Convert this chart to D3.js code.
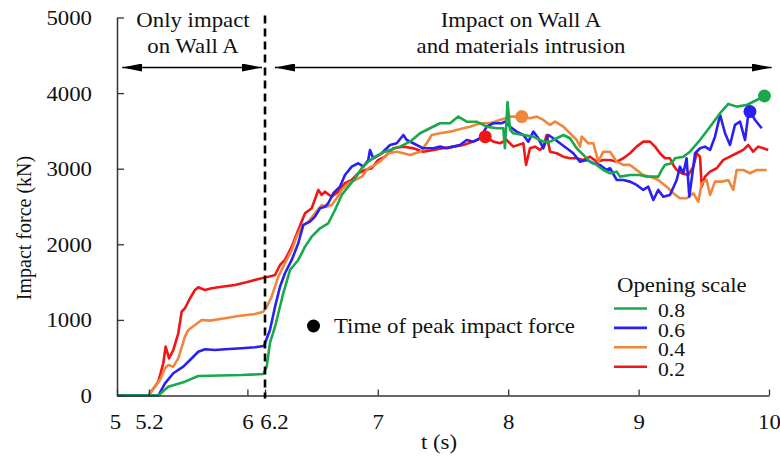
<!DOCTYPE html>
<html><head><meta charset="utf-8">
<script src="https://cdn.jsdelivr.net/npm/d3@7"></script>
<style>body{margin:0;background:#fff}svg{display:block}</style>
</head><body><svg id="c" width="780" height="459"></svg>
<script>
// ---- data ----
const seriesNames = ["0.8", "0.6", "0.4", "0.2"];
const seriesColors = ["#19a84b", "#2b20f2", "#ee873c", "#f01616"];
const xTicks = [5, 5.245, 6, 6.135, 7, 8, 9, 10];
const xTickLabels = ["5", "5.2", "6", "6.2", "7", "8", "9", "10"];
const yTicks = [0, 1000, 2000, 3000, 4000, 5000];
const phaseBoundary = 6.135;

const s08 = [[5,0],[5.238,0],[5.317,0],[5.393,116],[5.521,183],[5.623,258],[5.956,271],[6.122,284],[6.148,381],[6.173,695],[6.212,910],[6.275,1352],[6.327,1660],[6.39,1793],[6.442,1969],[6.493,2101],[6.557,2212],[6.62,2278],[6.672,2454],[6.723,2653],[6.774,2762],[6.825,2874],[6.877,3006],[6.927,3093],[6.979,3159],[7.055,3225],[7.17,3292],[7.247,3358],[7.324,3469],[7.4,3535],[7.477,3601],[7.554,3601],[7.617,3689],[7.682,3622],[7.758,3622],[7.835,3556],[7.912,3535],[7.962,3535],[7.975,3270],[7.995,3883],[8.014,3513],[8.039,3469],[8.116,3446],[8.193,3424],[8.269,3358],[8.321,3358],[8.372,3403],[8.423,3446],[8.474,3403],[8.525,3270],[8.576,3182],[8.627,3093],[8.679,3050],[8.729,2983],[8.781,2940],[8.832,2961],[8.857,2895],[8.934,2917],[9.011,2917],[9.062,2895],[9.087,2895],[9.151,2895],[9.177,2983],[9.202,3050],[9.254,3072],[9.279,3138],[9.343,3159],[9.394,3225],[9.471,3380],[9.548,3556],[9.625,3734],[9.688,3857],[9.752,3821],[9.829,3843],[9.906,3909],[9.969,3962]];
const s06 = [[5,0],[5.238,0],[5.317,0],[5.368,161],[5.432,294],[5.508,381],[5.56,470],[5.623,579],[5.675,611],[5.752,602],[5.828,611],[5.956,624],[6.058,638],[6.127,655],[6.173,867],[6.212,1175],[6.25,1439],[6.288,1617],[6.34,1793],[6.39,2014],[6.429,2256],[6.48,2299],[6.518,2366],[6.557,2477],[6.595,2498],[6.62,2543],[6.659,2675],[6.71,2762],[6.748,2917],[6.8,3027],[6.85,3072],[6.889,3027],[6.927,3116],[6.94,3248],[6.965,3138],[7.03,3204],[7.094,3314],[7.145,3337],[7.196,3446],[7.222,3380],[7.272,3337],[7.349,3270],[7.426,3270],[7.477,3292],[7.528,3270],[7.579,3292],[7.63,3314],[7.682,3380],[7.732,3358],[7.784,3403],[7.835,3556],[7.886,3601],[7.95,3601],[7.975,3622],[8.014,3556],[8.065,3490],[8.116,3446],[8.154,3358],[8.193,3490],[8.231,3403],[8.269,3270],[8.308,3446],[8.346,3403],[8.397,3337],[8.449,3270],[8.499,3204],[8.55,3093],[8.602,3116],[8.653,3072],[8.704,3050],[8.755,2983],[8.781,3006],[8.832,2851],[8.883,2851],[8.934,2829],[8.985,2785],[9.036,2719],[9.074,2762],[9.113,2586],[9.151,2719],[9.189,2630],[9.24,2653],[9.292,2851],[9.317,3027],[9.343,2940],[9.368,3138],[9.389,2630],[9.433,3204],[9.471,3270],[9.509,3292],[9.548,3248],[9.586,3424],[9.625,3711],[9.663,3469],[9.701,3314],[9.739,3579],[9.778,3622],[9.816,3380],[9.841,3711],[9.854,3755],[9.893,3645],[9.944,3535]];
const s04 = [[5,0],[5.24,0],[5.291,116],[5.33,205],[5.368,360],[5.393,404],[5.432,381],[5.47,492],[5.521,778],[5.547,867],[5.598,933],[5.65,999],[5.713,990],[5.828,1021],[5.93,1052],[6.058,1078],[6.122,1109],[6.148,1171],[6.186,1307],[6.237,1572],[6.288,1749],[6.34,1925],[6.378,2101],[6.416,2233],[6.467,2299],[6.518,2410],[6.57,2520],[6.608,2498],[6.646,2520],[6.685,2609],[6.723,2719],[6.774,2807],[6.825,2851],[6.877,2895],[6.927,3006],[6.979,3050],[7.03,3116],[7.081,3204],[7.145,3225],[7.196,3204],[7.247,3182],[7.324,3225],[7.375,3337],[7.413,3446],[7.477,3469],[7.554,3490],[7.605,3513],[7.656,3535],[7.707,3556],[7.784,3601],[7.86,3601],[7.937,3645],[8.014,3689],[8.104,3689],[8.167,3667],[8.219,3689],[8.269,3645],[8.321,3579],[8.359,3622],[8.423,3556],[8.474,3469],[8.525,3380],[8.551,3292],[8.564,3424],[8.614,3337],[8.653,3337],[8.691,3093],[8.729,3225],[8.781,3225],[8.832,3093],[8.883,3050],[8.934,3050],[8.985,2983],[9.036,2917],[9.087,2895],[9.151,2851],[9.215,2762],[9.266,2675],[9.317,2609],[9.368,2609],[9.42,2675],[9.458,2564],[9.484,2807],[9.522,2851],[9.548,2653],[9.586,2829],[9.637,2829],[9.688,2851],[9.726,2719],[9.752,2983],[9.803,2983],[9.854,2940],[9.906,2983],[9.982,2983]];
const s02 = [[5,0],[5.24,0],[5.317,183],[5.355,426],[5.373,646],[5.399,492],[5.432,602],[5.47,823],[5.496,1109],[5.521,1154],[5.56,1286],[5.598,1396],[5.623,1431],[5.675,1396],[5.726,1418],[5.803,1439],[5.905,1462],[6.007,1506],[6.11,1551],[6.186,1581],[6.212,1594],[6.25,1726],[6.288,1793],[6.34,1969],[6.39,2190],[6.442,2410],[6.493,2477],[6.544,2719],[6.57,2653],[6.595,2696],[6.646,2630],[6.697,2696],[6.748,2807],[6.8,2851],[6.85,2940],[6.902,2983],[6.953,3006],[7.004,3116],[7.055,3159],[7.119,3270],[7.196,3292],[7.272,3270],[7.349,3225],[7.426,3248],[7.502,3270],[7.579,3292],[7.656,3314],[7.732,3358],[7.824,3424],[7.886,3358],[7.937,3337],[7.988,3380],[8.039,3292],[8.116,3337],[8.137,3050],[8.167,3270],[8.206,3292],[8.244,3248],[8.269,3292],[8.295,3446],[8.321,3225],[8.372,3204],[8.423,3159],[8.474,3138],[8.525,3138],[8.576,3116],[8.627,3159],[8.679,3093],[8.729,3116],[8.781,3116],[8.832,3093],[8.883,3138],[8.934,3204],[8.985,3292],[9.036,3358],[9.087,3358],[9.126,3292],[9.164,3204],[9.202,3138],[9.24,3138],[9.266,3050],[9.292,2983],[9.33,2940],[9.381,2917],[9.42,3027],[9.446,3204],[9.471,3159],[9.484,2762],[9.509,2895],[9.548,2961],[9.599,3006],[9.65,3116],[9.701,3159],[9.752,3204],[9.803,3248],[9.841,3314],[9.879,3225],[9.917,3292],[9.956,3270],[9.994,3248]];
const seriesData = [s08, s06, s04, s02];
const peaks = [[9.965, 3962], [9.854, 3755], [8.104, 3689], [7.824, 3424]];

// ---- drawing ----
const FONT = "'Liberation Serif', 'Times New Roman', Tinos, 'DejaVu Serif', serif";
const STRETCH = 1.14; // reference text is horizontally stretched
const svg = d3.select("#c").style("font-family", FONT);
const x = d3.scaleLinear().domain([5, 10]).range([117, 769]);
const y = d3.scaleLinear().domain([0, 5000]).range([395.5, 17.5]);
const axisColor = "#333";
const fs = 20;
function txt(sel) { return sel.style("font-family", FONT).attr("fill", "#111"); }

// lines (draw red first, green last)
const line = d3.line().x(d => x(d[0])).y(d => y(d[1]));
[3, 2, 1, 0].forEach(i => {
  svg.append("path").datum(seriesData[i]).attr("d", line)
    .attr("fill", "none").attr("stroke", seriesColors[i])
    .attr("stroke-width", 2.6).attr("stroke-linejoin", "round");
});
[3, 2, 1, 0].forEach(i => {
  svg.append("circle").attr("cx", x(peaks[i][0])).attr("cy", y(peaks[i][1]))
    .attr("r", 6.5).attr("fill", seriesColors[i]);
});

// axes
const xAxis = d3.axisBottom(x).tickValues(xTicks)
  .tickFormat((d, i) => xTickLabels[i]).tickSizeInner(-6).tickSizeOuter(0).tickPadding(14);
const gx = svg.append("g").attr("transform", `translate(0,${y(0)})`).call(xAxis).attr("font-family", null);
gx.select(".domain").attr("stroke", axisColor).attr("stroke-width", 1.5);
gx.selectAll(".tick line").attr("stroke", axisColor).attr("stroke-width", 1.3);
txt(gx.selectAll(".tick text")).attr("font-size", fs).attr("dy", null).attr("y", 34).classed("hs", true)
  .attr("x", (d, i) => xTickLabels[i] === "6.2" ? 9 : (xTickLabels[i] === "5" ? -2 : 0));

const yAxis = d3.axisLeft(y).tickValues(yTicks).tickFormat(d3.format("d"))
  .tickSizeInner(-7).tickSizeOuter(0).tickPadding(25);
const gy = svg.append("g").attr("transform", `translate(${x(5)},0)`).call(yAxis).attr("font-family", null);
gy.select(".domain").attr("stroke", axisColor).attr("stroke-width", 1.5);
gy.selectAll(".tick line").attr("stroke", axisColor).attr("stroke-width", 1.3);
txt(gy.selectAll(".tick text")).attr("font-size", fs).attr("dy", null).attr("y", 7).classed("hs", true);

// axis titles
txt(svg.append("text")).attr("x", 439).attr("y", 449).attr("text-anchor", "middle")
  .attr("font-size", fs).classed("hs", true).text("t (s)");
txt(svg.append("text")).attr("transform", `translate(31,${228}) rotate(-90)`).attr("text-anchor", "middle")
  .attr("font-size", fs).text("Impact force (kN)");

// phase boundary dashed line
svg.append("line").attr("x1", x(phaseBoundary)).attr("x2", x(phaseBoundary))
  .attr("y1", y(5000) - 2).attr("y2", y(0) + 3)
  .attr("stroke", "#000").attr("stroke-width", 2.6).attr("stroke-dasharray", "8,5");

// arrows
const defs = svg.append("defs");
defs.append("marker").attr("id", "ah").attr("viewBox", "0 0 20 8").attr("refX", 20).attr("refY", 4)
  .attr("markerWidth", 20).attr("markerHeight", 8).attr("markerUnits", "userSpaceOnUse").attr("orient", "auto-start-reverse")
  .append("path").attr("d", "M0,0 L20,4 L0,8 Z").attr("fill", "#000");
const arrowY = 67.5;
function arrow(x1, x2) {
  svg.append("line").attr("x1", x1).attr("x2", x2).attr("y1", arrowY).attr("y2", arrowY)
    .attr("stroke", "#000").attr("stroke-width", 1.3)
    .attr("marker-start", "url(#ah)").attr("marker-end", "url(#ah)");
}
arrow(x(5.04), x(phaseBoundary) - 3);
arrow(x(phaseBoundary) + 10, x(10.02));

function label2(cx, l1, l2) {
  txt(svg.append("text")).attr("x", cx).attr("y", 27).attr("text-anchor", "middle").attr("font-size", fs).classed("hs", true).text(l1);
  txt(svg.append("text")).attr("x", cx).attr("y", 53).attr("text-anchor", "middle").attr("font-size", fs).classed("hs", true).text(l2);
}
label2(193, "Only impact", "on Wall A");
label2(521, "Impact on Wall A", "and materials intrusion");

// peak marker legend
svg.append("circle").attr("cx", 313.5).attr("cy", 326).attr("r", 6.5).attr("fill", "#000");
txt(svg.append("text")).attr("x", 334).attr("y", 333).attr("font-size", fs).classed("hs", true).text("Time of peak impact force");

// series legend
txt(svg.append("text")).attr("x", 617).attr("y", 292).attr("font-size", fs).classed("hs", true).text("Opening scale");
seriesNames.forEach((n, i) => {
  const ly = 308.5 + i * 19.4;
  svg.append("line").attr("x1", 614).attr("x2", 647).attr("y1", ly).attr("y2", ly)
    .attr("stroke", seriesColors[i]).attr("stroke-width", 2.6);
  txt(svg.append("text")).attr("x", 658).attr("y", ly + 9).attr("font-size", 19).classed("hs", true).text(n);
});

// horizontal stretch of texts about their anchor point
svg.selectAll("text.hs").each(function () {
  const t = d3.select(this);
  const ax = +t.attr("x") || 0, ay = +t.attr("y") || 0;
  t.attr("transform", `translate(${ax},${ay}) scale(${STRETCH},1) translate(${-ax},${-ay})`);
});
</script></body></html>
